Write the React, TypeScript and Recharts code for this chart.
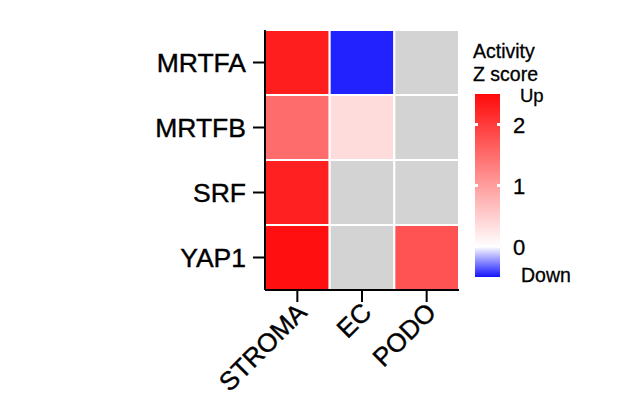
import { BarChart, Bar, Cell, XAxis, YAxis } from "recharts";

const genes = ["MRTFA", "MRTFB", "SRF", "YAP1"];
const cellTypes = ["STROMA", "EC", "PODO"];
// activity z scores, null = not detected (grey)
const stromaValues = [2.3, 1.5, 2.27, 2.45];
const ecValues = [-0.47, 0.36, null, null];
const podoValues = [null, null, null, 1.77];
const legendTicks = [0, 1, 2];
const zMin = -0.5;
const zMax = 2.5;

const FONT = "'Liberation Sans', Arial, sans-serif";

function colorOf(v: number | null) {
  if (v == null) return "#d3d3d3";
  if (v >= 0) {
    const t = Math.min(v / zMax, 1);
    const g = Math.round(255 - t * 245);
    return `rgb(255,${g},${g})`;
  }
  const t = Math.min(-v / -zMin, 1);
  const r = Math.round(255 - t * 235);
  return `rgb(${r},${r},255)`;
}

const columns = [stromaValues, ecValues, podoValues];
const data = genes.map(gene => ({ gene, s: 1, e: 1, p: 1 }));

const BottomTick = (props: any) => {
  const { x, y, payload } = props;
  const ax = x + 11;
  const ay = y + 10;
  return (
    <text x={ax} y={ay} transform={`rotate(-45, ${ax}, ${ay})`} textAnchor="end"
      fontSize={26} fill="#000" stroke="#000" strokeWidth={0.4} fontFamily={FONT}>
      {cellTypes[payload.index]}
    </text>
  );
};

function Legend() {
  // colour bar geometry
  const bx = 475, bw = 25, top = 94, bottom = 277;
  const yOf = (v: number) => top + ((zMax - v) / (zMax - zMin)) * (bottom - top);
  const zeroOff = (zMax / (zMax - zMin)) * 100;
  return (
    <svg width={639} height={393} style={{ position: "absolute", left: 0, top: 0 }} fontFamily={FONT}>
      <defs>
        <linearGradient id="zgrad" x1="0" y1="0" x2="0" y2="1">
          <stop offset="0%" stopColor={colorOf(zMax)} />
          <stop offset={`${zeroOff}%`} stopColor="#ffffff" />
          <stop offset="100%" stopColor={colorOf(zMin)} />
        </linearGradient>
      </defs>
      <text x={473} y={58} fontSize={19.5} fill="#000" stroke="#000" strokeWidth={0.3}>Activity</text>
      <text x={473} y={81} fontSize={19.5} fill="#000" stroke="#000" strokeWidth={0.3}>Z score</text>
      <rect x={bx} y={top} width={bw} height={bottom - top} fill="url(#zgrad)" />
      {legendTicks.map(t => (
        <g key={t}>
          <rect x={bx} y={yOf(t) - 1.5} width={3} height={3} fill="#fff" />
          <rect x={bx + bw - 3} y={yOf(t) - 1.5} width={3} height={3} fill="#fff" />
          <text x={513} y={yOf(t) + 8} fontSize={22} fill="#000" stroke="#000" strokeWidth={0.3}>{t}</text>
        </g>
      ))}
      <text x={520} y={102} fontSize={18.5} fill="#000" stroke="#000" strokeWidth={0.3}>Up</text>
      <text x={521} y={282} fontSize={19.5} fill="#000" stroke="#000" strokeWidth={0.3}>Down</text>
    </svg>
  );
}

export default function App() {
  const axisStroke = { stroke: "#000", strokeWidth: 2 };
  return (
    <div style={{ position: "absolute", left: 0, top: 0, width: 639, height: 393, background: "#fff", fontFamily: FONT }}>
      <BarChart width={639} height={393} data={data} layout="vertical"
        margin={{ top: 30, right: 180, bottom: 0, left: 0 }} barCategoryGap={0}>
        {["s", "e", "p"].map((k, ci) => (
          <Bar key={k} dataKey={k} stackId="a" xAxisId="b" isAnimationActive={false}
            stroke="#fff" strokeWidth={2}>
            {genes.map((g, i) => (
              <Cell key={g} fill={colorOf(columns[ci][i])} />
            ))}
          </Bar>
        ))}
        <XAxis xAxisId="b" type="number" domain={[0, 3]} ticks={[0.5, 1.5, 2.5]}
          height={103} tickSize={12} tickLine={axisStroke} axisLine={axisStroke}
          tick={<BottomTick />} interval={0} />
        <XAxis xAxisId="t" orientation="top" type="number" domain={[0, 3]} height={0}
          tick={false} tickLine={false} axisLine={axisStroke} />
        <YAxis type="category" dataKey="gene" width={265} tickSize={12} tickMargin={7}
          tickLine={axisStroke} axisLine={axisStroke}
          tick={{ fontSize: 26.5, fill: "#000", stroke: "#000", strokeWidth: 0.4, fontFamily: FONT }} />
        <YAxis yAxisId="r" orientation="right" type="category" dataKey="gene" width={0}
          tick={false} tickLine={false} axisLine={axisStroke} />
      </BarChart>
      <Legend />
    </div>
  );
}
